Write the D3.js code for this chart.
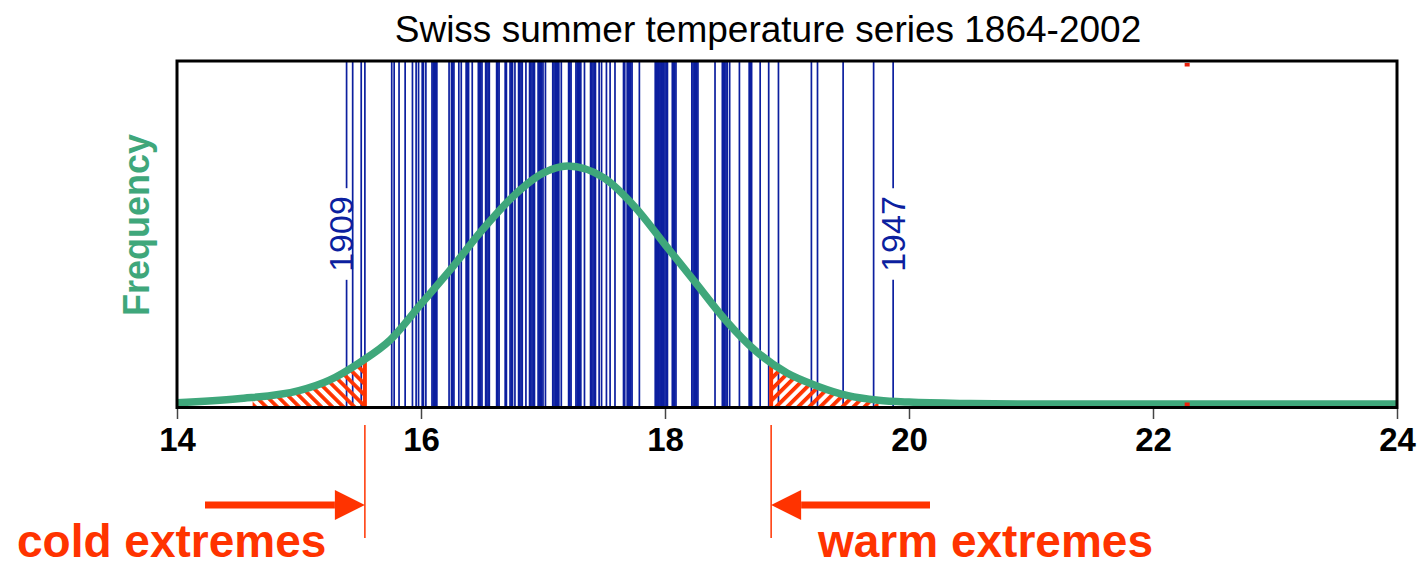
<!DOCTYPE html>
<html lang="en">
<head>
  <meta charset="UTF-8">
  <title>Swiss summer temperature series 1864-2002</title>
  <style>
    body {
      margin: 0;
      background-color: #fff;
      font-family: "Liberation Sans", Arial, sans-serif;
    }
  </style>
</head>
<body>
  <svg id="chart" width="1419" height="567"></svg>

  <script src="https://d3js.org/d3.v7.min.js"></script>
  <script>
    // summer mean temperatures (°C), one per year
    const temps = [
      15.39, 15.44, 15.51, 15.54, 15.76, 15.78, 15.82, 15.87, 15.93, 15.96,
      15.98, 16.01, 16.04, 16.09, 16.11, 16.13, 16.23, 16.25, 16.27, 16.31,
      16.33, 16.37, 16.39, 16.42, 16.48, 16.49, 16.53, 16.54, 16.56, 16.62,
      16.64, 16.69, 16.70, 16.73, 16.75, 16.77, 16.80, 16.82, 16.83, 16.86,
      16.89, 16.91, 16.92, 16.97, 16.98, 16.99, 17.02, 17.08, 17.10, 17.12,
      17.15, 17.21, 17.22, 17.27, 17.29, 17.30, 17.34, 17.39, 17.41, 17.43,
      17.46, 17.48, 17.52, 17.55, 17.59, 17.66, 17.69, 17.70, 17.72, 17.73,
      17.79, 17.92, 17.94, 17.95, 17.96, 17.98, 17.99, 18.02, 18.06, 18.08,
      18.09, 18.22, 18.24, 18.26, 18.27, 18.41, 18.47, 18.49, 18.51, 18.53,
      18.61, 18.69, 18.71, 18.78, 18.85, 18.93, 19.20, 19.25, 19.46, 19.71,
      19.87,
      16.02, 16.10, 16.26, 16.38, 16.50, 16.55, 16.63, 16.81, 16.90, 16.93,
      16.96, 17.00, 17.09, 17.11, 17.28, 17.31, 17.40, 17.42, 17.67, 17.71,
      17.93, 17.94, 17.95, 17.97, 17.98, 18.00, 18.01, 18.07, 18.23, 18.25,
      18.48, 18.50, 18.70, 17.13, 16.47, 16.74, 16.12, 17.23
    ];

    const labelYears = [1909, 1947];
    const labelTemps = [15.39, 19.87];

    // fitted frequency curve (relative height)
    const curveT = [14.0, 14.5, 15.0, 15.25, 15.5, 15.75, 16.0, 16.25, 16.5, 16.75, 17.0, 17.2,
                    17.5, 17.75, 18.0, 18.25, 18.5, 18.75, 19.0, 19.25, 19.5, 19.75, 20.0, 20.5, 21.0, 24.0];
    const curveF = [0.005, 0.022, 0.056, 0.10, 0.175, 0.27, 0.42, 0.57, 0.73, 0.87, 0.97, 1.0,
                    0.95, 0.83, 0.67, 0.51, 0.35, 0.22, 0.13, 0.075, 0.035, 0.016, 0.008, 0.002, 0, 0];

    const coldLimit = 15.54;
    const warmLimit = 18.87;
    const coldHatch = [14.62, coldLimit];
    const warmHatch = [warmLimit, 19.75];
    const recordTemp = 22.28;   // red marks on the frame
    const xTicks = [14, 16, 18, 20, 22, 24];

    const BLUE = "#0c1f9f";
    const GREEN = "#3fa77b";
    const RED = "#ff3300";

    const svg = d3.select("#chart");

    const plotTop = 61, plotBottom = 407.5;
    const x = d3.scaleLinear().domain([14, 24]).range([177, 1397]);
    const yc = d3.scaleLinear().domain([0, 1]).range([404, 166]);
    const curveAt = d3.scaleLinear().domain(curveT).range(curveF).clamp(true);

    // hatch patterns
    const defs = svg.append("defs");
    function makeHatch(id, angle) {
      const p = defs.append("pattern")
        .attr("id", id)
        .attr("patternUnits", "userSpaceOnUse")
        .attr("width", 7.8)
        .attr("height", 7.8)
        .attr("patternTransform", `rotate(${angle})`);
      p.append("rect")
        .attr("x", 0).attr("y", 0)
        .attr("width", 3.8).attr("height", 7.8)
        .attr("fill", RED);
    }
    makeHatch("hatchCold", -45);
    makeHatch("hatchWarm", 45);

    // title
    svg.append("text")
      .attr("x", 768)
      .attr("y", 42)
      .attr("text-anchor", "middle")
      .attr("font-size", 37)
      .attr("fill", "#000")
      .text("Swiss summer temperature series 1864-2002");

    // y label
    svg.append("text")
      .attr("transform", "translate(149,225) rotate(-90)")
      .attr("text-anchor", "middle")
      .attr("font-size", 36)
      .attr("font-weight", "bold")
      .attr("fill", GREEN)
      .text("Frequency");

    // one line per year
    const labelled = new Set(labelTemps);
    svg.append("g")
      .selectAll("line")
      .data(temps.filter(t => !labelled.has(t)))
      .join("line")
      .attr("x1", d => x(d)).attr("x2", d => x(d))
      .attr("y1", plotTop).attr("y2", plotBottom)
      .attr("stroke", BLUE)
      .attr("stroke-width", 1.7);

    // labelled years: line with a gap for the text
    const labelMid = 234;
    labelYears.forEach((yr, i) => {
      const t = labelTemps[i];
      // the cold label sits a little left so it clears its neighbour line
      const shift = t < 17 ? -6 : 0;
      const txt = svg.append("text")
        .attr("transform", `translate(${x(t) + shift},${labelMid}) rotate(-90)`)
        .attr("text-anchor", "middle")
        .attr("dy", "0.36em")
        .attr("font-size", 34)
        .attr("fill", BLUE)
        .text(yr);
      const half = txt.node().getComputedTextLength() / 2 + 8;
      [[plotTop, labelMid - half], [labelMid + half, plotBottom]].forEach(seg => {
        svg.append("line")
          .attr("x1", x(t)).attr("x2", x(t))
          .attr("y1", seg[0]).attr("y2", seg[1])
          .attr("stroke", BLUE)
          .attr("stroke-width", 1.7);
      });
    });

    // hatched tails
    function tail(range, fill) {
      const pts = d3.range(range[0], range[1] + 0.001, 0.02);
      const area = d3.area()
        .x(d => x(d))
        .y0(yc(0) + 2)
        .y1(d => yc(curveAt(d)));
      svg.append("path")
        .datum(pts)
        .attr("d", area)
        .attr("fill", fill);
    }
    tail(coldHatch, "url(#hatchCold)");
    tail(warmHatch, "url(#hatchWarm)");

    [coldLimit, warmLimit].forEach(t => {
      svg.append("line")
        .attr("x1", x(t)).attr("x2", x(t))
        .attr("y1", yc(0) + 2).attr("y2", yc(curveAt(t)))
        .attr("stroke", RED)
        .attr("stroke-width", 4);
    });

    // frequency curve
    svg.append("path")
      .datum(curveT.map((t, i) => [t, curveF[i]]))
      .attr("fill", "none")
      .attr("stroke", GREEN)
      .attr("stroke-width", 7.5)
      .attr("stroke-linejoin", "round")
      .attr("d", d3.line()
        .x(d => x(d[0]))
        .y(d => yc(d[1]))
        .curve(d3.curveMonotoneX));

    // frame
    svg.append("rect")
      .attr("x", x(14)).attr("y", plotTop)
      .attr("width", x(24) - x(14))
      .attr("height", plotBottom - plotTop)
      .attr("fill", "none")
      .attr("stroke", "#000")
      .attr("stroke-width", 3);

    // record marks
    [plotTop + 2, plotBottom - 5].forEach(yy => {
      svg.append("rect")
        .attr("x", x(recordTemp) - 2.5).attr("y", yy)
        .attr("width", 5).attr("height", 3.5)
        .attr("fill", "#e8200a");
    });

    // x axis
    const axis = svg.append("g")
      .attr("transform", `translate(0,${plotBottom + 1.5})`)
      .call(d3.axisBottom(x).tickValues(xTicks).tickSize(10).tickPadding(9).tickFormat(d3.format("d")));
    axis.select(".domain").remove();
    axis.selectAll(".tick line").attr("stroke", "#444").attr("stroke-width", 1.5);
    axis.selectAll(".tick text")
      .attr("font-family", "'Liberation Sans', Arial, sans-serif")
      .attr("font-size", 33)
      .attr("font-weight", "bold")
      .attr("fill", "#000");

    // extreme thresholds and arrows
    [coldLimit, warmLimit].forEach(t => {
      svg.append("line")
        .attr("x1", x(t)).attr("x2", x(t))
        .attr("y1", 425).attr("y2", 538)
        .attr("stroke", RED)
        .attr("stroke-width", 1.5);
    });

    function arrow(tip, tail, yy) {
      const dir = Math.sign(tip - tail);
      const headLen = 30;
      svg.append("line")
        .attr("x1", tail).attr("x2", tip - dir * headLen)
        .attr("y1", yy).attr("y2", yy)
        .attr("stroke", RED)
        .attr("stroke-width", 7);
      svg.append("path")
        .attr("d", `M${tip},${yy} L${tip - dir * headLen},${yy - 15} L${tip - dir * headLen},${yy + 15} Z`)
        .attr("fill", RED);
    }
    arrow(x(coldLimit), 205, 505);
    arrow(x(warmLimit), 930, 505);

    svg.append("text")
      .attr("x", 17).attr("y", 557)
      .attr("font-size", 46)
      .attr("font-weight", "bold")
      .attr("fill", RED)
      .text("cold extremes");
    svg.append("text")
      .attr("x", 818).attr("y", 557)
      .attr("font-size", 46)
      .attr("font-weight", "bold")
      .attr("fill", RED)
      .text("warm extremes");
  </script>
</body>
</html>
